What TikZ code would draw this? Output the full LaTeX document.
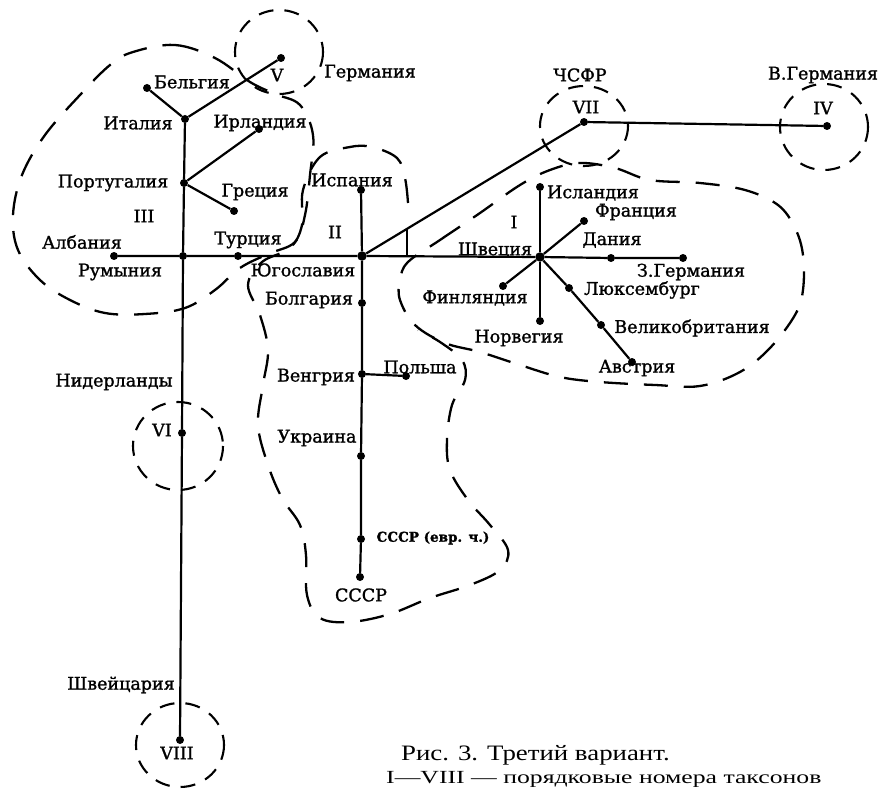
\documentclass[tikz,border=0pt]{standalone}
\usepackage{fontspec}
\setmainfont{Liberation Serif}
\newfontfamily\labfont{DejaVu Serif}[FakeBold=1.3]
\usetikzlibrary{calc}
\begin{document}
\begin{tikzpicture}[x=1pt,y=-1pt,
  dot/.style={circle, fill=black, inner sep=0pt, minimum size=8pt},
  bigdot/.style={circle, fill=black, inner sep=0pt, minimum size=9.5pt},
  lab/.style={font=\labfont\fontsize{17.5}{18}\selectfont, inner sep=0pt},
  smalllab/.style={font=\labfont\bfseries\fontsize{13.5}{14}\selectfont, inner sep=0pt},
  edge/.style={line width=2.2pt},
  region/.style={line width=2.3pt, dash pattern=on 24pt off 16pt},
  ring/.style={line width=2.1pt, dash pattern=on 15pt off 11pt}]
\useasboundingbox (0,0) rectangle (887,789);
\clip (0,0) rectangle (887,789);
% dots
\node[dot] (bel) at (147,88) {};
\node[dot] (ger) at (281,58) {};
\node[dot] (ita) at (185,119) {};
\node[dot] (irl) at (259,129) {};
\node[dot] (por) at (184,183) {};
\node[dot] (gre) at (234,211) {};
\node[dot] (alb) at (114,256) {};
\node[dot] (rom) at (183,256) {};
\node[dot] (tur) at (238,256) {};
\node[bigdot] (yug) at (362,256) {};
\node[dot] (spa) at (361,190) {};
\node[dot] (bul) at (362,303) {};
\node[dot] (hun) at (362,374) {};
\node[dot] (pol) at (406,376) {};
\node[dot] (ukr) at (361,456) {};
\node[dot] (sue) at (361,539) {};
\node[dot] (sss) at (360,577) {};
\node[dot] (net) at (182,433) {};
\node[dot] (swi) at (180,740) {};
\node[dot] (cze) at (584,122) {};
\node[dot] (wge) at (827,126) {};
\node[bigdot] (swe) at (540,257) {};
\node[dot] (ice) at (540,187) {};
\node[dot] (nor) at (540,321) {};
\node[dot] (fra) at (584,221) {};
\node[dot] (fin) at (503,286) {};
\node[dot] (den) at (611,258) {};
\node[dot] (eger) at (683,258) {};
\node[dot] (lux) at (569,288) {};
\node[dot] (gbr) at (601,325) {};
\node[dot] (aut) at (632,362) {};
% edges
\draw[edge] (bel) -- (ita) -- (ger);
\draw[edge] (ita) -- (por) -- (rom) -- (net) -- (swi);
\draw[edge] (irl) -- (por) -- (gre);
\draw[edge] (alb) -- (rom) -- (tur) -- (yug) -- (swe) -- (den) -- (eger);
\draw[edge] (spa) -- (yug) -- (bul) -- (hun) -- (ukr) -- (sue) -- (sss);
\draw[edge] (hun) -- (pol);
\draw[edge] (yug) -- (cze) -- (wge);
\coordinate (tk) at ($(yug)!0.2027!(cze)$);
\draw[edge] (tk) -- (tk |- yug);
\draw[edge] (ice) -- (swe) -- (nor);
\draw[edge] (fra) -- (swe) -- (fin);
\draw[edge] (swe) -- (lux) -- (gbr) -- (aut);
% rings
\draw[ring] (279,52) ellipse [x radius=44, y radius=42];
\draw[ring] (584,126) ellipse [x radius=44, y radius=40];
\draw[ring] (824,127) ellipse [x radius=44, y radius=43];
\draw[ring] (178,446) ellipse [x radius=45, y radius=44];
\draw[ring] (180,745) ellipse [x radius=44, y radius=42];
% regions
\draw[region] plot[smooth cycle, tension=0.6] coordinates {
 (133,52) (175,45) (215,58) (250,82) (275,94) (300,105) (313,135) (310,175)
 (305,215) (295,242) (268,254) (240,268) (215,290) (185,308) (145,314)
 (105,313) (70,300) (40,280) (18,250) (13,215) (22,175) (45,135) (80,95) (110,65)};
\draw[region] plot[smooth, tension=0.6] coordinates {
 (408,203) (405,178) (397,158) (372,147) (350,147) (320,157) (303,190)
 (302,225) (290,248) (262,262) (248,285) (260,315) (268,350) (263,385)
 (258,425) (268,465) (282,498) (300,525) (306,555) (307,595) (320,618)
 (350,622) (390,614) (430,598) (470,585) (500,570) (508,550) (490,525)
 (468,500) (450,470) (447,440) (452,405) (465,380) (462,360) (440,342) (418,330)};
\draw[region] plot[smooth cycle, tension=0.6] coordinates {
 (408,262) (440,240) (480,213) (520,185) (550,170) (580,163) (615,168)
 (650,180) (700,183) (745,190) (778,205) (795,228) (803,255) (803,290)
 (795,315) (770,348) (740,372) (700,386) (655,385) (600,382) (560,377)
 (520,365) (480,352) (445,343) (415,325) (400,300) (400,280)};
% labels
\node[lab] (lbel) at (192,82) {Бельгия};
\node[lab] (lV) at (277,75) {V};
\node[lab] (lger) at (370,73) {Германия};
\node[lab] (lita) at (138,123) {Италия};
\node[lab] (lirl) at (260,123) {Ирландия};
\node[lab] (lpor) at (113,183) {Португалия};
\node[lab] (lgre) at (255,192) {Греция};
\node[lab] (lIII) at (144,216) {III};
\node[lab] (lalb) at (82,242) {Албания};
\node[lab] (ltur) at (248,240) {Турция};
\node[lab] (lrom) at (120,272) {Румыния};
\node[lab] (lspa) at (352,180) {Испания};
\node[lab] (lII) at (335,232) {II};
\node[lab] (lyug) at (303,270) {Югославия};
\node[lab] (lbul) at (309,300) {Болгария};
\node[lab] (lhun) at (316,377) {Венгрия};
\node[lab] (lpol) at (420,367) {Польша};
\node[lab] (lukr) at (317,438) {Украина};
\node[smalllab] (lsue) at (433,538) {СССР (евр. ч.)};
\node[lab] (lsss) at (361,595) {СССР};
\node[lab] (lnet) at (114,382) {Нидерланды};
\node[lab] (lVI) at (162,430) {VI};
\node[lab] (lswi) at (121,685) {Швейцария};
\node[lab] (lVIII) at (177,753) {VIII};
\node[lab] (lcze) at (580,75) {ЧСФР};
\node[lab] (lVII) at (586,107) {VII};
\node[lab] (lwge) at (823,75) {В.Германия};
\node[lab] (lIV) at (823,108) {IV};
\node[lab] (lI) at (514,222) {I};
\node[lab] (lswe) at (495,250) {Швеция};
\node[lab] (lice) at (593,193) {Исландия};
\node[lab] (lfra) at (636,212) {Франция};
\node[lab] (lden) at (612,240) {Дания};
\node[lab] (leger) at (691,272) {З.Германия};
\node[lab] (llux) at (642,290) {Люксембург};
\node[lab] (lfin) at (475,298) {Финляндия};
\node[lab] (lnor) at (519,338) {Норвегия};
\node[lab] (lgbr) at (692,328) {Великобритания};
\node[lab] (laut) at (637,368) {Австрия};
% caption
\node[anchor=base west, inner sep=0pt, font=\fontsize{22}{22}\selectfont] (cap1) at (401,760) {\scalebox{1.22}[1]{Рис. 3. Третий вариант.}};
\node[anchor=base west, inner sep=0pt, font=\fontsize{18.5}{19}\selectfont] (cap2) at (386,783.5) {\scalebox{1.39}[1]{I—VIII — порядковые номера таксонов}};
\end{tikzpicture}
\end{document}
